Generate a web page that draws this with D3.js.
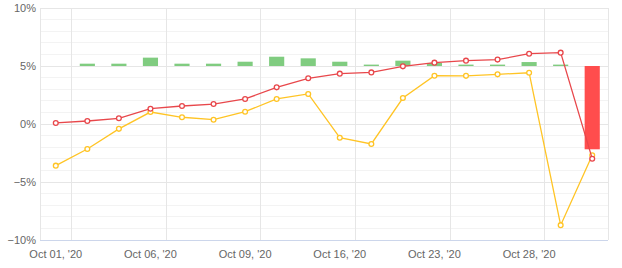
<!DOCTYPE html>
<html><head><meta charset="utf-8">
<script src="https://cdn.jsdelivr.net/npm/d3@7"></script>
<style>
html,body{margin:0;padding:0;background:#fff;}
svg{display:block;font-family:"Liberation Sans",Arial,sans-serif;}
</style></head>
<body><svg id="chart" width="622" height="268"></svg>
<script>
const dates = ["Oct 01, '20","Oct 02, '20","Oct 05, '20","Oct 06, '20","Oct 07, '20","Oct 08, '20","Oct 09, '20","Oct 13, '20","Oct 15, '20","Oct 16, '20","Oct 19, '20","Oct 21, '20","Oct 23, '20","Oct 26, '20","Oct 27, '20","Oct 28, '20","Oct 29, '20","Oct 30, '20"];
const tickLabels = ["Oct 01, '20","Oct 06, '20","Oct 09, '20","Oct 16, '20","Oct 23, '20","Oct 28, '20"];
const redLine = [0.09,0.26,0.49,1.32,1.55,1.72,2.16,3.16,3.94,4.34,4.45,4.97,5.29,5.46,5.55,6.06,6.15,-2.99];
const yellowLine = [-3.59,-2.16,-0.42,1.03,0.58,0.37,1.06,2.16,2.59,-1.18,-1.72,2.24,4.16,4.15,4.28,4.42,-8.72,-2.70];
const barValues = [0,0.2,0.2,0.72,0.2,0.2,0.37,0.8,0.66,0.37,0.12,0.46,0.26,0.12,0.12,0.34,0.12,-7.18];
const barBase = 5;
const yTicks = [10,5,0,-5,-10];

const svg = d3.select("#chart");
const m = {l:40, r:14, t:8, b:28};
const W = 622, H = 268;
const x = d3.scaleBand().domain(dates).range([m.l, W-m.r]).paddingInner(0).paddingOuter(0);
const y = d3.scaleLinear().domain([-10,10]).range([H-m.b, m.t]);
const cx = d => x(d) + x.bandwidth()/2;

// minor grid
svg.append("g").selectAll("line").data(d3.range(-10,11,1).filter(v=>v%5!==0)).join("line")
  .attr("x1",m.l).attr("x2",W-m.r).attr("y1",d=>y(d)).attr("y2",d=>y(d))
  .attr("stroke","#f3f3f3").attr("stroke-width",1).attr("shape-rendering","crispEdges");
// major grid
svg.append("g").selectAll("line").data(yTicks.filter(v=>v!==-10)).join("line")
  .attr("x1",m.l).attr("x2",W-m.r).attr("y1",d=>y(d)).attr("y2",d=>y(d))
  .attr("stroke","#e6e6e6").attr("stroke-width",1).attr("shape-rendering","crispEdges");
// vertical grid (at right boundary of labelled categories)
const vIdx = tickLabels.map(t => dates.indexOf(t));
svg.append("g").selectAll("line").data(vIdx).join("line")
  .attr("x1",i=>x(dates[i])+x.bandwidth()).attr("x2",i=>x(dates[i])+x.bandwidth())
  .attr("y1",m.t).attr("y2",H-m.b)
  .attr("stroke","#e6e6e6").attr("stroke-width",1).attr("shape-rendering","crispEdges");
// left & right borders
[m.l, W-m.r].forEach(xx=>{
  svg.append("line").attr("x1",xx).attr("x2",xx).attr("y1",m.t).attr("y2",H-m.b)
    .attr("stroke","#e6e6e6").attr("shape-rendering","crispEdges");
});

// bars
const bw = x.bandwidth()*0.48;
svg.append("g").selectAll("rect").data(barValues.map((v,i)=>({v,d:dates[i]})).filter(o=>o.v!==0)).join("rect")
  .attr("x",o=>cx(o.d)-bw/2).attr("width",bw)
  .attr("y",o=>Math.min(y(barBase),y(barBase+o.v)))
  .attr("height",o=>Math.abs(y(barBase+o.v)-y(barBase)))
  .attr("fill",o=>o.v>=0?"#80cc80":"#ff4d4d");

// lines
function drawLine(vals,color){
  const g = svg.append("g");
  g.append("path").datum(vals)
    .attr("d",d3.line().x((v,i)=>cx(dates[i])).y(v=>y(v)))
    .attr("fill","none").attr("stroke",color).attr("stroke-width",1.3);
  g.selectAll("circle").data(vals).join("circle")
    .attr("cx",(v,i)=>cx(dates[i])).attr("cy",v=>y(v)).attr("r",2.4)
    .attr("fill","#fff").attr("stroke",color).attr("stroke-width",1.3);
}
drawLine(yellowLine,"#ffc425");
drawLine(redLine,"#e8474b");

// x axis line
svg.append("line").attr("x1",m.l).attr("x2",W-m.r).attr("y1",H-m.b+0.5).attr("y2",H-m.b+0.5)
  .attr("stroke","#ccd6eb");

// y labels
svg.append("g").selectAll("text").data(yTicks).join("text")
  .attr("x",36).attr("y",d=>y(d)).attr("dy","0.35em").attr("text-anchor","end")
  .attr("font-size",11).attr("fill","#666")
  .text(d=>(d<0?"\u2212"+Math.abs(d):d)+"%");
// x labels
svg.append("g").selectAll("text").data(tickLabels).join("text")
  .attr("x",d=>cx(d)).attr("y",258).attr("text-anchor","middle")
  .attr("font-size",11).attr("fill","#666").text(d=>d);
</script></body></html>
